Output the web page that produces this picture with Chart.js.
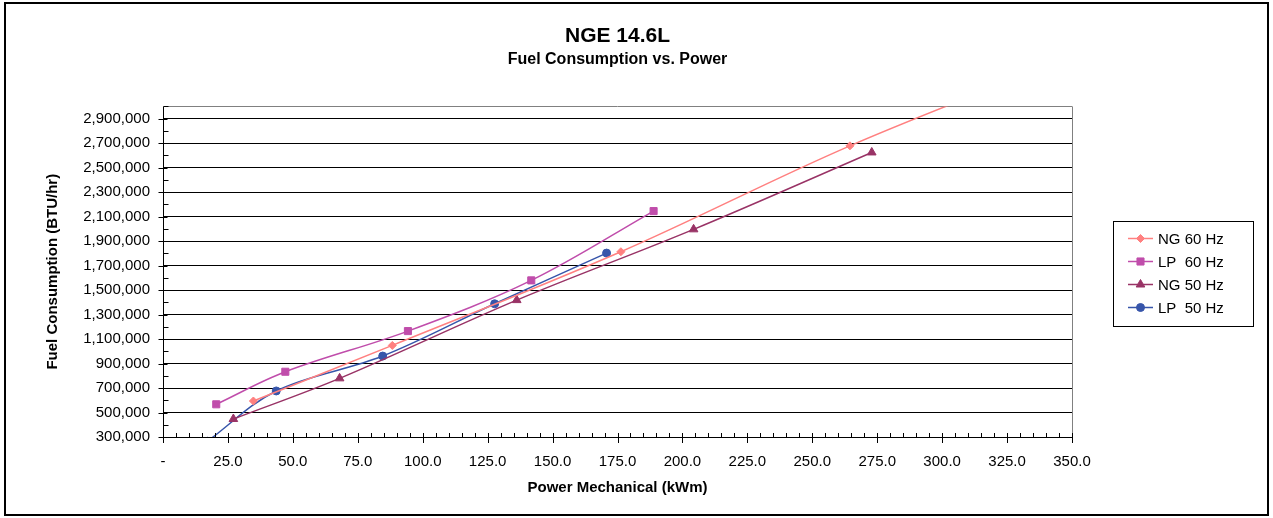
<!DOCTYPE html>
<html>
<head>
<meta charset="utf-8">
<title>NGE 14.6L</title>
<script src="https://cdn.jsdelivr.net/npm/chart.js@4.4.0/dist/chart.umd.min.js"></script>
<style>
  html, body { margin: 0; padding: 0; background: #fff; }
</style>
</head>
<body>
<canvas id="myChart" width="1273" height="518"></canvas>
<script>
const xTicks = [0, 25, 50, 75, 100, 125, 150, 175, 200, 225, 250, 275, 300, 325, 350];
const yTicks = [300000, 500000, 700000, 900000, 1100000, 1300000, 1500000, 1700000,
    1900000, 2100000, 2300000, 2500000, 2700000, 2900000];

// power in kWm, fuel in BTU/hr (last NG 60 point and first LP 50 point sit outside the plot)
const ng60Power = [34.8, 88.3, 176.3, 264.5, 352.7];
const ng60Fuel = [594000, 1048000, 1813000, 2678000, 3430000];
const lp60Power = [20.5, 47.1, 94.3, 141.8, 188.9];
const lp60Fuel = [567000, 833000, 1165000, 1579000, 2145000];
const ng50Power = [27.1, 68.0, 136.2, 204.3, 272.9];
const ng50Fuel = [447000, 779000, 1418000, 1996000, 2624000];
const lp50Power = [17.1, 43.6, 84.6, 127.7, 170.8];
const lp50Fuel = [265000, 676000, 961000, 1388000, 1802000];

const FONT = "'Liberation Sans', Arial, sans-serif";
Chart.defaults.font.family = FONT;
Chart.defaults.color = '#000';

function toPoints(xs, ys) {
    return xs.map((x, i) => ({ x: x, y: ys[i] }));
}

function series(label, xs, ys, color, style, radius) {
    return {
        label: label,
        data: toPoints(xs, ys),
        showLine: true,
        borderColor: color,
        backgroundColor: color,
        borderWidth: 1.5,
        tension: 0.35,
        pointStyle: style,
        pointRadius: radius,
        pointHoverRadius: radius,
        pointBorderWidth: 1,
        pointBackgroundColor: color,
        pointBorderColor: color
    };
}

// plot border, minor ticks, outer frame
const excelFrame = {
    id: 'excelFrame',
    beforeDatasetsDraw(chart) {
        const { ctx, chartArea: a } = chart;
        ctx.save();
        ctx.strokeStyle = '#808080';
        ctx.lineWidth = 1;
        ctx.beginPath();
        ctx.moveTo(a.left, Math.round(a.top) + 0.5);
        ctx.lineTo(a.right, Math.round(a.top) + 0.5);
        ctx.moveTo(Math.round(a.right) + 0.5, a.top);
        ctx.lineTo(Math.round(a.right) + 0.5, a.bottom);
        ctx.stroke();
        ctx.restore();
    },
    afterDraw(chart) {
        const { ctx, chartArea: a, scales } = chart;
        const xs = scales.x, ys = scales.y;
        ctx.save();
        ctx.strokeStyle = '#000';
        ctx.lineWidth = 1;
        ctx.beginPath();
        const ax = Math.round(a.left) + 0.5;
        for (let v = 300000; v <= 3000000; v += 100000) {
            const py = Math.round(ys.getPixelForValue(v)) + 0.5;
            if (yTicks.includes(v)) {
                ctx.moveTo(ax - 5, py); ctx.lineTo(ax + 4, py);
            } else {
                ctx.moveTo(ax, py); ctx.lineTo(ax + 5, py);
            }
        }
        const by = Math.round(a.bottom);
        for (let v = 0; v <= 350; v += 5) {
            const px = Math.round(xs.getPixelForValue(v)) + 0.5;
            if (v % 25 === 0) {
                ctx.moveTo(px, by - 4); ctx.lineTo(px, by + 6);
            } else {
                ctx.moveTo(px, by - 4); ctx.lineTo(px, by);
            }
        }
        ctx.stroke();

        ctx.lineWidth = 2;
        ctx.strokeRect(5, 3, 1263, 512);
        ctx.restore();
    }
};

// excel style legend: line through marker
const excelLegend = {
    id: 'excelLegend',
    afterDraw(chart) {
        const ctx = chart.ctx;
        const left = chart.chartArea.right + 41;
        const top = 221;
        ctx.save();
        ctx.strokeStyle = '#000';
        ctx.lineWidth = 1;
        ctx.strokeRect(left + 0.5, top + 0.5, 140, 105);
        ctx.font = '15px ' + FONT;
        ctx.textBaseline = 'middle';
        ctx.textAlign = 'left';
        chart.data.datasets.forEach((ds, i) => {
            const y = top + 17.5 + i * 23;
            ctx.strokeStyle = ds.borderColor;
            ctx.fillStyle = ds.backgroundColor;
            ctx.lineWidth = 1.5;
            ctx.beginPath();
            ctx.moveTo(left + 15, y);
            ctx.lineTo(left + 40, y);
            ctx.stroke();
            ctx.lineWidth = 1;
            Chart.helpers.drawPoint(ctx, {
                pointStyle: ds.pointStyle,
                radius: ds.pointRadius,
                borderWidth: 1,
                rotation: 0
            }, left + 27.5, y);
            ctx.fillStyle = '#000';
            ctx.fillText(ds.label, left + 45, y + 1);
        });
        ctx.restore();
    }
};

const ctx = document.getElementById('myChart').getContext('2d');

const myChart = new Chart(ctx, {
    type: 'scatter',
    data: {
        datasets: [
            series('NG 60 Hz', ng60Power, ng60Fuel, '#FF8080', 'rectRot', 4),
            series('LP  60 Hz', lp60Power, lp60Fuel, '#C04DAB', 'rect', 5),
            series('NG 50 Hz', ng50Power, ng50Fuel, '#993366', 'triangle', 5),
            series('LP  50 Hz', lp50Power, lp50Fuel, '#3755AA', 'circle', 4)
        ]
    },
    options: {
        responsive: false,
        animation: false,
        devicePixelRatio: 1,
        layout: {
            padding: { top: 8, right: 201, bottom: 6, left: 6 }
        },
        scales: {
            x: {
                type: 'linear',
                min: 0,
                max: 350,
                afterBuildTicks: (scale) => { scale.ticks = xTicks.map(v => ({ value: v })); },
                afterFit: (scale) => { scale.height = 75; },
                grid: { display: false, drawTicks: false },
                border: { display: true, color: '#000', width: 1 },
                ticks: {
                    padding: 16,
                    font: { size: 15 },
                    maxRotation: 0,
                    autoSkip: false,
                    callback: (v) => v === 0 ? '-' : Number(v).toFixed(1)
                },
                title: {
                    display: true,
                    text: 'Power Mechanical (kWm)',
                    font: { size: 15, weight: 'bold' },
                    padding: { top: 0, bottom: 15 }
                }
            },
            y: {
                type: 'linear',
                min: 300000,
                max: 3000000,
                afterBuildTicks: (scale) => { scale.ticks = yTicks.map(v => ({ value: v })); },
                afterFit: (scale) => { scale.width = 157; },
                grid: { color: '#000', lineWidth: 1, drawTicks: false },
                border: { display: true, color: '#000', width: 1 },
                ticks: {
                    padding: 13,
                    font: { size: 15 },
                    autoSkip: false,
                    callback: (v) => Number(v).toLocaleString('en-US')
                },
                title: {
                    display: true,
                    text: 'Fuel Consumption (BTU/hr)',
                    font: { size: 15, weight: 'bold' },
                    padding: { top: 38, bottom: 0 }
                }
            }
        },
        plugins: {
            legend: { display: false },
            tooltip: { enabled: false },
            title: {
                display: true,
                text: 'NGE 14.6L',
                fullSize: false,
                font: { size: 21, weight: 'bold' },
                padding: { top: 16, bottom: 0 }
            },
            subtitle: {
                display: true,
                text: 'Fuel Consumption vs. Power',
                fullSize: false,
                font: { size: 16, weight: 'bold' },
                padding: { top: 1, bottom: 37 }
            }
        }
    },
    plugins: [excelFrame, excelLegend]
});
</script>
</body>
</html>
